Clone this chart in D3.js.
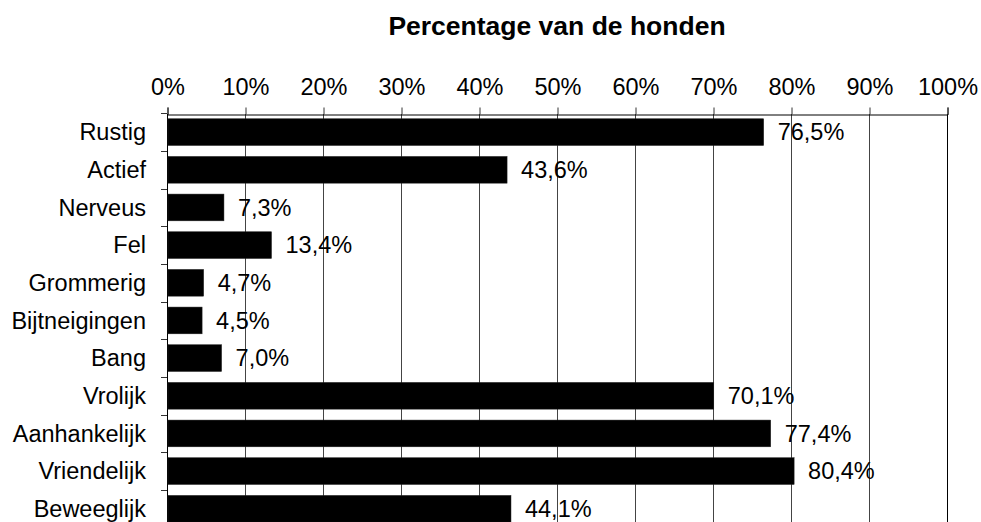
<!DOCTYPE html>
<html>
<head>
<meta charset="utf-8">
<script src="https://cdn.jsdelivr.net/npm/d3@7"></script>
<style>
  body { margin: 0; background: #fff; }
  text { font-family: "Liberation Sans", Arial, sans-serif; }
</style>
</head>
<body>
<script>
// data
const categories = ["Rustig", "Actief", "Nerveus", "Fel", "Grommerig", "Bijtneigingen",
  "Bang", "Vrolijk", "Aanhankelijk", "Vriendelijk", "Beweeglijk"];
const values = [76.5, 43.6, 7.3, 13.4, 4.7, 4.5, 7.0, 70.1, 77.4, 80.4, 44.1];
const ticks = [0, 10, 20, 30, 40, 50, 60, 70, 80, 90, 100];
const title = "Percentage van de honden";

function main() {
  let svg = d3.select("body").append("svg")
    .attr("width", 981)
    .attr("height", 522);

  let nl = d3.formatLocale({ decimal: ",", thousands: ".", grouping: [3], currency: ["€", ""] });
  let fmtVal = v => nl.format(".1f")(v) + "%";
  let fs = 23.5;

  let x = d3.scaleLinear().domain([0, 100]).range([167, 947]);
  let y = d3.scaleBand().domain(categories).range([113.3, 527.6])
    .paddingInner(0.29).paddingOuter(0.145);

  let data = categories.map((c, i) => ({ cat: c, val: values[i] }));

  // gridlines
  svg.append("g").selectAll("line")
    .data(ticks)
    .join("line")
    .attr("x1", d => x(d) + 0.5)
    .attr("x2", d => x(d) + 0.5)
    .attr("y1", 114)
    .attr("y2", 522)
    .attr("stroke", d => d == 100 ? "#000" : "#444")
    .attr("stroke-width", 1);

  // top axis
  let xaxis = d3.axisTop(x).tickValues(ticks).tickSize(7).tickPadding(13)
    .tickFormat(d => d + "%");
  let gx = svg.append("g")
    .attr("transform", "translate(0.5,114.5)")
    .call(xaxis);
  gx.select(".domain").attr("stroke", "#000");
  gx.selectAll(".tick line").attr("stroke", "#333");
  gx.selectAll("text")
    .attr("font-family", "Liberation Sans, Arial, sans-serif")
    .attr("font-size", fs)
    .attr("fill", "#000");

  // left axis line and ticks at band edges
  svg.append("line")
    .attr("x1", 167.5).attr("x2", 167.5)
    .attr("y1", 114).attr("y2", 522)
    .attr("stroke", "#000");
  let step = y.step();
  svg.append("g").selectAll("line")
    .data(categories)
    .join("line")
    .attr("x1", 161)
    .attr("x2", 167)
    .attr("y1", d => Math.round(y(d) - y.paddingInner() * step / 2) + 0.5)
    .attr("y2", d => Math.round(y(d) - y.paddingInner() * step / 2) + 0.5)
    .attr("stroke", "#333");

  // bars
  svg.append("g").selectAll("rect")
    .data(data)
    .join("rect")
    .attr("x", x(0) + 1)
    .attr("y", d => y(d.cat))
    .attr("width", d => x(d.val) - x(0) - 1)
    .attr("height", y.bandwidth())
    .attr("fill", "#000")
    .attr("stroke", "#222")
    .attr("stroke-width", 0.5);

  // category labels
  svg.append("g").selectAll("text")
    .data(data)
    .join("text")
    .attr("x", 146)
    .attr("y", d => y(d.cat) + y.bandwidth() / 2)
    .attr("dy", "0.35em")
    .attr("text-anchor", "end")
    .attr("font-size", fs)
    .text(d => d.cat);

  // value labels
  svg.append("g").selectAll("text")
    .data(data)
    .join("text")
    .attr("x", d => x(d.val) + 14)
    .attr("y", d => y(d.cat) + y.bandwidth() / 2)
    .attr("dy", "0.35em")
    .attr("font-size", fs)
    .text(d => fmtVal(d.val));

  svg.append("text")
    .attr("x", (x(0) + x(100)) / 2)
    .attr("y", 35)
    .attr("text-anchor", "middle")
    .attr("font-size", 26.5)
    .attr("font-weight", "bold")
    .text(title);
}

main();
</script>
</body>
</html>
